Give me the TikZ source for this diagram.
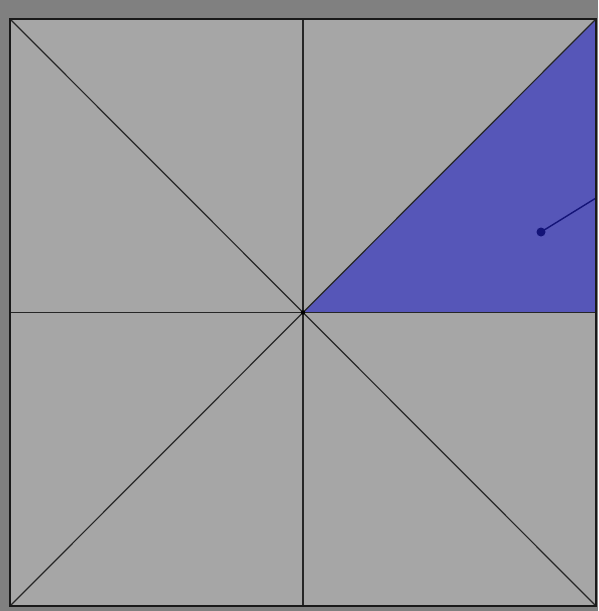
\documentclass[tikz,border=0pt]{standalone}
\begin{document}
\begin{tikzpicture}[x=1pt,y=-1pt,
  thin line/.style={draw=black!85,line width=1.2pt},
  frame/.style={draw=black!90,line width=2.6pt}]
\definecolor{bg}{RGB}{128,128,128}
\definecolor{inner}{RGB}{166,166,166}
\definecolor{tri}{RGB}{86,86,184}
\definecolor{dotc}{RGB}{20,20,120}
\fill[bg] (0,0) rectangle (598,611);
\useasboundingbox (0,0) rectangle (598,611);
\coordinate (tl) at (10,19);
\coordinate (tr) at (596,19);
\coordinate (bl) at (10,606);
\coordinate (br) at (596,606);
\coordinate (c) at (303,312.5);
\coordinate (tm) at (303,19);
\coordinate (bm) at (303,606);
\coordinate (lm) at (10,312.5);
\coordinate (rm) at (596,312.5);
\fill[inner] (tl) rectangle (br);
\fill[tri] (c) -- (tr) -- (rm) -- cycle;
\draw[thin line] (tl) -- (br);
\draw[thin line] (bl) -- (tr);
\draw[thin line] (tm) -- (bm);
\draw[thin line] (lm) -- (rm);
\fill[black] (c) circle (2.2);
\coordinate (p) at (541,232);
\coordinate (q) at (596,198);
\draw[dotc,line width=1.4pt] (p) -- (q);
\fill[dotc] (p) circle (4.5);
\draw[frame] (tl) rectangle (br);
\end{tikzpicture}
\end{document}
